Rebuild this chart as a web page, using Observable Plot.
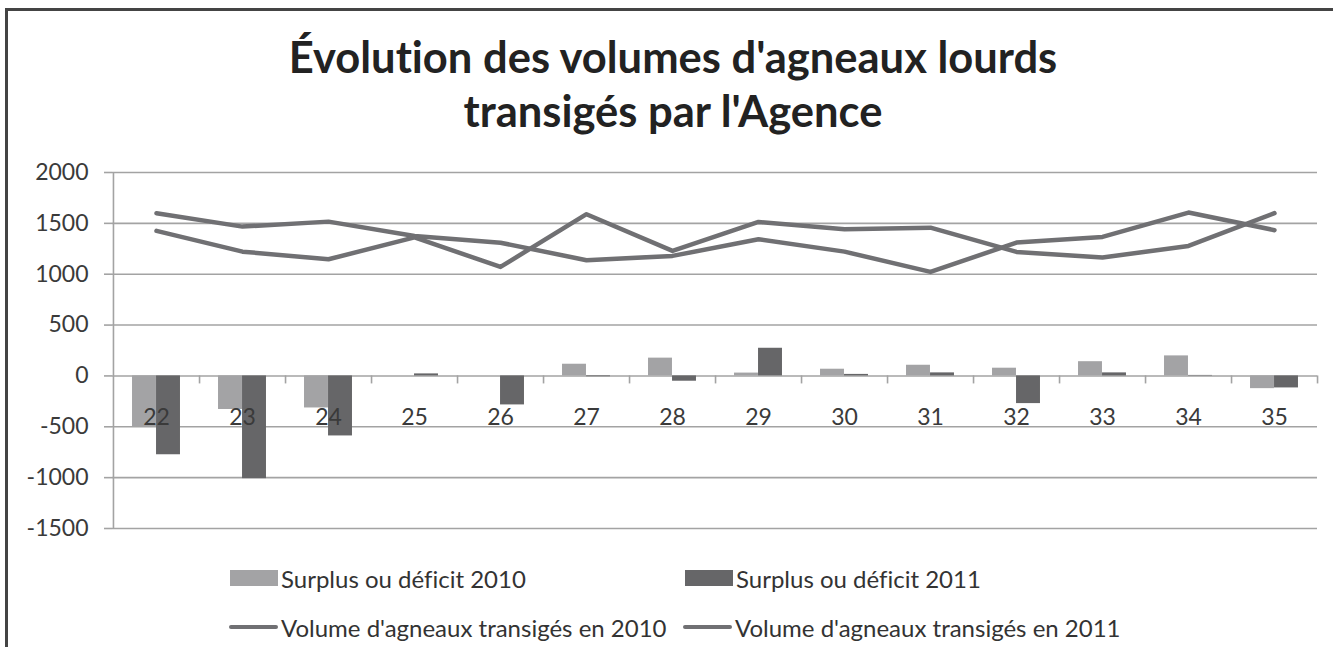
<!DOCTYPE html>
<html>
<head>
<meta charset="utf-8">
<script src="https://cdn.jsdelivr.net/npm/d3@7"></script>
<script src="https://cdn.jsdelivr.net/npm/@observablehq/plot@0.6"></script>
<style>
html, body { margin: 0; padding: 0; background: #fff; overflow: hidden; width: 1333px; height: 647px; font-family: Lato, sans-serif; font-variant-ligatures: none; }
#frame { position: absolute; left: 5px; top: 8px; width: 1400px; height: 700px; border-left: 3.5px solid #444; border-top: 3.5px solid #444; }
#title { position: absolute; left: 0; top: 29px; width: 1346px; text-align: center; font-family: Lato, sans-serif; font-weight: bold; font-size: 43.5px; line-height: 54px; color: #222; font-variant-ligatures: none; }
#chart { position: absolute; left: 0; top: 150px; }
#chart svg text { font-variant-ligatures: none; }
.leg { position: absolute; display: flex; align-items: center; height: 30px; font-family: Lato, sans-serif; font-size: 24px; color: #333; white-space: nowrap; }
.sw { width: 48px; height: 16px; margin-right: 3px; }
.ln { width: 49px; height: 4.5px; border-radius: 3px; margin-right: 3px; }
</style>
</head>
<body>
<div id="frame"></div>
<div id="title"></div>
<div id="chart"></div>
<div id="legend"></div>
<script>
// ---- data ----
const titleLines = ["Évolution des volumes d'agneaux lourds", "transigés par l'Agence"];
const weeks = [22, 23, 24, 25, 26, 27, 28, 29, 30, 31, 32, 33, 34, 35];
const surplus2010 = [-500, -330, -315, 0, 0, 115, 175, 28, 66, 105, 76, 140, 197, -125];
const surplus2011 = [-775, -1010, -590, 20, -285, -8, -52, 272, 15, 30, -272, 30, 5, -118];
const volume2010 = [1600, 1468, 1517, 1375, 1310, 1138, 1180, 1344, 1222, 1023, 1311, 1367, 1606, 1433];
const volume2011 = [1426, 1222, 1147, 1362, 1072, 1590, 1229, 1514, 1442, 1458, 1219, 1164, 1278, 1600];
const yTicks = [-1500, -1000, -500, 0, 500, 1000, 1500, 2000];
const seriesLabels = ["Surplus ou déficit 2010", "Surplus ou déficit 2011", "Volume d'agneaux transigés en 2010", "Volume d'agneaux transigés en 2011"];

// ---- styles ----
const c10 = "#a3a3a5", c11 = "#666668", lineColor = "#707073", grid = "#a3a3a3", textColor = "#3a3a3a";

document.getElementById("title").innerHTML = titleLines.map(t => `<div>${t}</div>`).join("");

const rows = weeks.map((w, i) => ({week: String(w), s10: surplus2010[i], s11: surplus2011[i], v10: volume2010[i], v11: volume2011[i]}));

const W = 1333, H = 410, mL = 112, mR = 16, mT = 22, mB = 32;
const bw = (W - mL - mR) / weeks.length;
const half = bw / 2;
const gap = bw * 0.221;

const chart = Plot.plot({
  width: W, height: H,
  marginLeft: mL, marginRight: mR, marginTop: mT, marginBottom: mB,
  x: {type: "band", domain: rows.map(d => d.week), padding: 0, axis: null},
  y: {domain: [yTicks[0], yTicks[yTicks.length - 1]], axis: null},
  style: {fontFamily: "Lato, sans-serif", fontSize: "23px", color: textColor, background: "transparent", overflow: "visible"},
  marks: [
    Plot.ruleY(yTicks, {stroke: grid, strokeWidth: 1.6}),
    Plot.ruleX([rows[0].week], {x: d => d, dx: -half, stroke: grid, strokeWidth: 1.6}),
    Plot.ruleX(rows, {x: "week", dx: half, y1: 0, y2: 0, insetBottom: -8, stroke: grid, strokeWidth: 1.6}),
    Plot.axisY(yTicks, {tickSize: 8, tickPadding: 16, tickFormat: d => String(d), stroke: grid, strokeWidth: 1.6, fill: textColor, fontSize: 23, label: null}),
    Plot.barY(rows, {x: "week", y1: 0, y2: "s10", fill: c10, insetLeft: gap, insetRight: half}),
    Plot.barY(rows, {x: "week", y1: 0, y2: "s11", fill: c11, insetLeft: half, insetRight: gap}),
    Plot.text(rows, {x: "week", y: 0, text: "week", dy: 42, fontSize: 23, fill: textColor}),
    Plot.lineY(rows, {x: "week", y: "v10", stroke: lineColor, strokeWidth: 4.5, strokeLinecap: "round", strokeLinejoin: "round"}),
    Plot.lineY(rows, {x: "week", y: "v11", stroke: lineColor, strokeWidth: 4.5, strokeLinecap: "round", strokeLinejoin: "round"})
  ]
});
document.getElementById("chart").appendChild(chart);

// ---- legend ----
const legendItems = [
  {label: seriesLabels[0], kind: "sw", color: c10, left: 230, top: 563},
  {label: seriesLabels[1], kind: "sw", color: c11, left: 685, top: 563},
  {label: seriesLabels[2], kind: "ln", color: lineColor, left: 229, top: 612},
  {label: seriesLabels[3], kind: "ln", color: lineColor, left: 683, top: 612}
];
document.getElementById("legend").innerHTML = legendItems.map(d =>
  `<div class="leg" style="left:${d.left}px;top:${d.top}px"><span class="${d.kind}" style="background:${d.color}"></span><span>${d.label}</span></div>`
).join("");
</script>
</body>
</html>
